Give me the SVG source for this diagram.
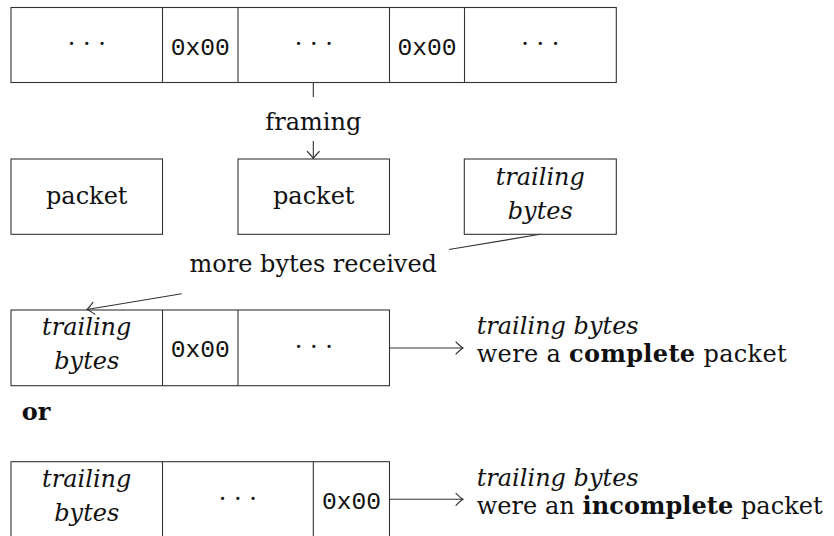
<svg xmlns="http://www.w3.org/2000/svg" width="834" height="536" viewBox="0 0 834 536">
<style>
.box{fill:#fff;stroke:#333;stroke-width:1.1}
.ln{fill:none;stroke:#333;stroke-width:1.1}
.t{font-family:'DejaVu Serif',serif;font-size:24px;fill:#111}
.it{font-style:italic}
.b{font-weight:bold}
.m{font-family:'Liberation Mono','DejaVu Sans Mono',monospace;font-size:24.6px;fill:#111}
.c{text-anchor:middle}
</style>
<defs>
<marker id="to" markerUnits="userSpaceOnUse" markerWidth="16" markerHeight="16" refX="0" refY="0" viewBox="-9 -8 10 16" orient="auto" overflow="visible">
<path d="M -7 -6 Q -2.5 -1.5 0 0 Q -2.5 1.5 -7 6" fill="none" stroke="#333" stroke-width="1.1" stroke-linecap="round"/>
</marker>
</defs>

<g id="stream">
<rect class="box" x="11" y="7.5" width="605.3" height="75"/>
<line class="ln" x1="162.5" y1="7.5" x2="162.5" y2="82.5"/>
<line class="ln" x1="238" y1="7.5" x2="238" y2="82.5"/>
<line class="ln" x1="389.5" y1="7.5" x2="389.5" y2="82.5"/>
<line class="ln" x1="464.5" y1="7.5" x2="464.5" y2="82.5"/>
<text class="t c" x="86.75" y="52">· · ·</text>
<text class="m c" x="200.25" y="55">0x00</text>
<text class="t c" x="313.75" y="52">· · ·</text>
<text class="m c" x="427" y="55">0x00</text>
<text class="t c" x="540.4" y="52">· · ·</text>
</g>

<g id="packet1">
<rect class="box" x="11" y="159" width="151.5" height="75.3"/>
<text class="t c" x="86.75" y="204">packet</text>
</g>
<g id="packet2">
<rect class="box" x="238" y="159" width="151.5" height="75.3"/>
<text class="t c" x="313.75" y="204">packet</text>
</g>
<g id="trailing">
<rect class="box" x="464.3" y="159" width="152" height="75.3"/>
<text class="t it c" x="540.3" y="185">trailing</text>
<text class="t it c" x="540.3" y="219">bytes</text>
</g>

<g id="complete">
<rect class="box" x="11" y="310" width="378.5" height="75.7"/>
<line class="ln" x1="162.5" y1="310" x2="162.5" y2="385.7"/>
<line class="ln" x1="238" y1="310" x2="238" y2="385.7"/>
<text class="t it c" x="86.75" y="335">trailing</text>
<text class="t it c" x="86.75" y="369">bytes</text>
<text class="m c" x="200.25" y="357">0x00</text>
<text class="t c" x="313.75" y="355">· · ·</text>
</g>
<g id="complete-note">
<text class="t it" x="476.7" y="334">trailing bytes</text>
<text class="t" x="476.7" y="362" textLength="310" lengthAdjust="spacing">were a <tspan class="b">complete</tspan> packet</text>
</g>

<g id="or-label">
<text class="t b" x="21.7" y="420">or</text>
</g>

<g id="incomplete">
<rect class="box" x="11" y="461.7" width="378.5" height="75.3"/>
<line class="ln" x1="162.5" y1="461.7" x2="162.5" y2="537"/>
<line class="ln" x1="313.3" y1="461.7" x2="313.3" y2="537"/>
<text class="t it c" x="86.75" y="486.7">trailing</text>
<text class="t it c" x="86.75" y="520.7">bytes</text>
<text class="t c" x="237.9" y="506.5">· · ·</text>
<text class="m c" x="351.4" y="508.5">0x00</text>
</g>
<g id="incomplete-note">
<text class="t it" x="476.7" y="485.5">trailing bytes</text>
<text class="t" x="476.7" y="513.5" textLength="346" lengthAdjust="spacing">were an <tspan class="b">incomplete</tspan> packet</text>
</g>

<g id="connectors">
<line class="ln" x1="313.3" y1="82.5" x2="313.3" y2="97"/>
<text class="t c" x="313.3" y="130">framing</text>
<line class="ln" x1="313.3" y1="141" x2="313.3" y2="158.5" marker-end="url(#to)"/>
<line class="ln" x1="540.3" y1="234.3" x2="449" y2="249.5"/>
<text class="t c" x="313.3" y="272">more bytes received</text>
<line class="ln" x1="181.7" y1="293.8" x2="87" y2="309.5" marker-end="url(#to)"/>
<line class="ln" x1="389.5" y1="348" x2="463" y2="348" marker-end="url(#to)"/>
<line class="ln" x1="389.5" y1="499.3" x2="463" y2="499.3" marker-end="url(#to)"/>
</g>
</svg>
